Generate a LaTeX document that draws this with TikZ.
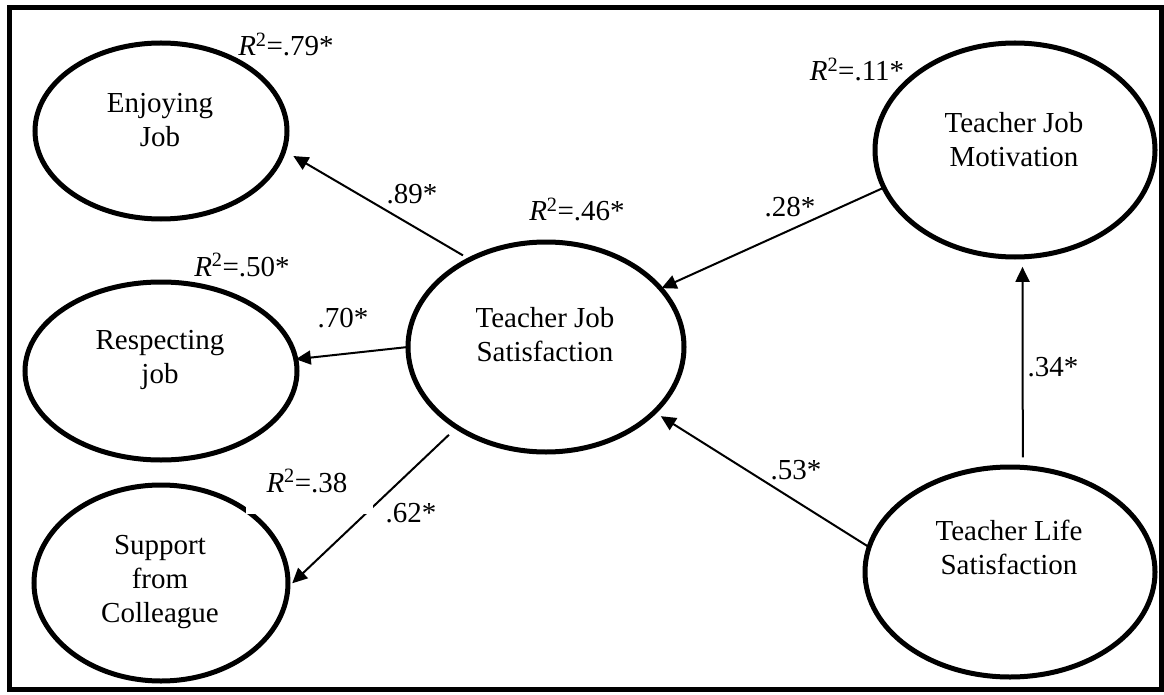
\documentclass[tikz,border=0pt]{standalone}
\usepackage{fontspec}
\setmainfont{Liberation Serif}
\usetikzlibrary{arrows.meta,shapes.geometric}
\tikzset{
  latent/.style={ellipse, draw, line width=5pt, inner sep=0pt, outer sep=0pt},
  txt/.style={font=\fontsize{29}{34}\selectfont, align=center, inner sep=0pt},
  lbl/.style={font=\fontsize{29}{34}\selectfont, anchor=base, inner sep=0pt},
  conn/.style={line width=2pt, -{Triangle[length=15pt,width=14pt]}},
  frame/.style={line width=5pt}
}
\newcommand{\rsq}[1]{\textit{R}\textsuperscript{2}=#1}
\begin{document}
\begin{tikzpicture}[x=1pt,y=-1pt]
\useasboundingbox (0,0) rectangle (1164,695);
\draw[frame] (9.5,7.5) rectangle (1161,689.5);
% latent variables
\node[latent, minimum width=252pt, minimum height=176pt] (ej) at (161,131) {};
\node[latent, minimum width=272pt, minimum height=178pt] (rj) at (161,371) {};
\node[latent, minimum width=254pt, minimum height=196pt] (sc) at (161,583) {};
\node[latent, minimum width=276pt, minimum height=210pt] (tjs) at (546,347) {};
\node[latent, minimum width=280pt, minimum height=214pt] (tjm) at (1015,150) {};
\node[latent, minimum width=290pt, minimum height=210pt] (tls) at (1010,572) {};
% texts
\node[txt] (ejt) at (160,120) {Enjoying\\Job};
\node[txt] (rjt) at (160,360) {Respecting\\job};
\node[txt] (sct) at (160,582) {Support\\from\\Colleague};
\node[txt] (tjst) at (545,335) {Teacher Job\\Satisfaction};
\node[txt] (tjmt) at (1014,140) {Teacher Job\\Motivation};
\node[txt] (tlst) at (1009,547) {Teacher Life\\Satisfaction};
% connectors
\draw[conn, shorten <=8pt, shorten >=11pt] (tjs.131.5) -- (ej.-9.9);
\draw[conn] (tjs.180) -- (rj.5.5);
\draw[conn, shorten <=11pt, shorten >=6pt] (tjs.-138.6) -- (sc.-2.8);
\draw[conn, shorten >=1pt] (tjm.-164.2) -- (tjs.27.4);
\draw[conn, shorten >=7.7pt] (tls.170.1) -- (tjs.-31.5);
\draw[conn, shorten <=10pt, shorten >=10pt] (tls.83.5) -- (tjm.-86.3);
% label background artefact
\fill[white] (246,465) rectangle (373,514);
% labels
\node[lbl] (r79) at (286,56) {\rsq{.79*}};
\node[lbl] (c89) at (412,204) {.89*};
\node[lbl] (r46) at (577,221) {\rsq{.46*}};
\node[lbl] (r50) at (242,276) {\rsq{.50*}};
\node[lbl] (c70) at (343,327) {.70*};
\node[lbl] (r38) at (307,492) {\rsq{.38}};
\node[lbl] (c62) at (411,522) {.62*};
\node[lbl] (r11) at (857,81) {\rsq{.11*}};
\node[lbl] (c28) at (790,216) {.28*};
\node[lbl] (c53) at (796,479) {.53*};
\node[lbl] (c34) at (1053,376) {.34*};
\end{tikzpicture}
\end{document}
